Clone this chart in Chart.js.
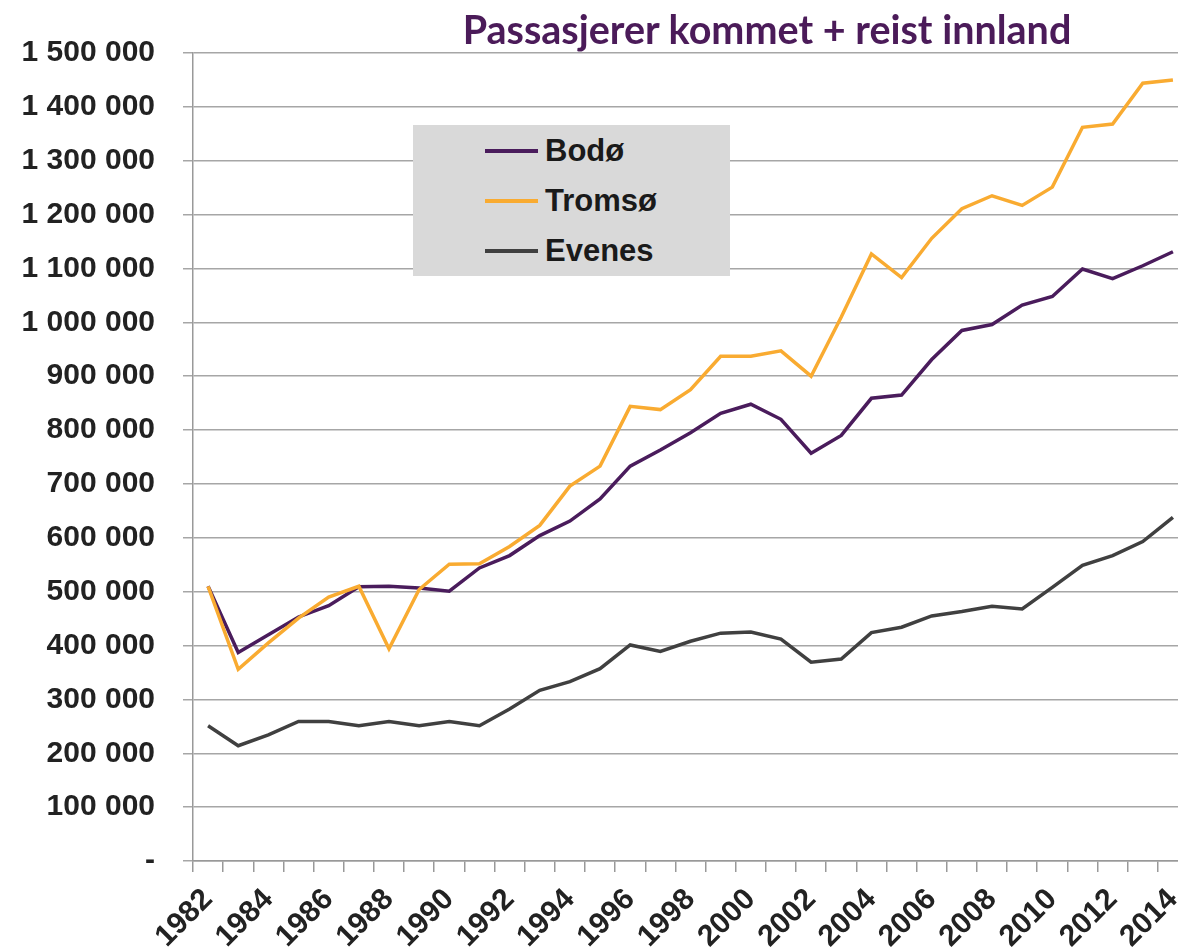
<!DOCTYPE html>
<html lang="no">
  <head>
    <meta charset="UTF-8" />
    <title>Passasjerer kommet + reist innland</title>
    <script src="https://cdn.jsdelivr.net/npm/chart.js"></script>
    <style>
      body {
        margin: 0;
        overflow: hidden;
        background: #fff;
      }
      #wrap {
        position: relative;
        width: 1178px;
        height: 949px;
        overflow: hidden;
      }
      #title {
        position: absolute;
        left: 420px;
        top: 9px;
        width: 694px;
        text-align: center;
        font: bold 39.5px Lato, sans-serif;
        line-height: 39px;
        color: #4b1b59;
        white-space: nowrap;
      }
      #legend {
        position: absolute;
        left: 413px;
        top: 125px;
        width: 317px;
        height: 151px;
        background: #d9d9d9;
      }
      .item {
        position: absolute;
        left: 72px;
        height: 40px;
        display: flex;
        align-items: center;
        font: bold 31px "Liberation Sans", Arial, sans-serif;
        color: #1a1a1a;
      }
      .item span.line {
        display: inline-block;
        width: 53px;
        height: 4px;
        margin-right: 7px;
      }
    </style>
  </head>
  <body>
    <div id="wrap">
      <canvas id="chart" width="1188" height="949"></canvas>
      <div id="title">Passasjerer kommet + reist innland</div>
      <div id="legend"></div>
    </div>
    <script>
      const years = [
        "1982", "1983", "1984", "1985", "1986", "1987", "1988", "1989",
        "1990", "1991", "1992", "1993", "1994", "1995", "1996", "1997",
        "1998", "1999", "2000", "2001", "2002", "2003", "2004", "2005",
        "2006", "2007", "2008", "2009", "2010", "2011", "2012", "2013", "2014",
      ];

      const bodo = [
        510000, 387000, 420000, 453000, 474000, 509000, 510000, 507000,
        501000, 544000, 567000, 604000, 631000, 672000, 733000, 763000,
        795000, 831000, 848000, 820000, 757000, 790000, 859000, 865000,
        931000, 985000, 996000, 1032000, 1048000, 1099000, 1081000, 1105000, 1131000,
      ];

      const tromso = [
        510000, 356000, 405000, 451000, 490000, 510000, 394000, 504000,
        551000, 552000, 584000, 623000, 696000, 733000, 844000, 838000,
        875000, 937000, 937000, 947000, 900000, 1010000, 1127000, 1083000,
        1156000, 1211000, 1235000, 1217000, 1251000, 1362000, 1368000, 1444000, 1450000,
      ];

      const evenes = [
        251000, 214000, 234000, 259000, 259000, 251000, 259000, 251000,
        259000, 251000, 282000, 317000, 333000, 357000, 401000, 389000,
        408000, 423000, 425000, 412000, 369000, 375000, 424000, 434000,
        455000, 463000, 473000, 468000, 508000, 549000, 567000, 593000, 638000,
      ];

      const seriesNames = ["Bodø", "Tromsø", "Evenes"];
      const seriesColors = ["#4a1c5c", "#f9ab31", "#404040"];

      function fmt(v) {
        if (v === 0) return "-";
        return String(v).replace(/\B(?=(\d{3})+(?!\d))/g, " ");
      }

      const tickFont = { family: "'Liberation Sans', Arial, sans-serif", size: 30, weight: "bold" };

      new Chart(document.getElementById("chart"), {
        type: "line",
        data: {
          labels: years,
          datasets: [bodo, tromso, evenes].map((d, i) => ({
            label: seriesNames[i],
            data: d,
            borderColor: seriesColors[i],
            backgroundColor: seriesColors[i],
            borderWidth: 3.5,
            pointRadius: 0,
            tension: 0,
            fill: false,
            order: i === 1 ? 0 : i + 1,
          })),
        },
        options: {
          responsive: false,
          animation: false,
          devicePixelRatio: 1,
          layout: { padding: { top: 53, right: 0, left: 0, bottom: 0 } },
          plugins: {
            legend: { display: false },
            tooltip: { enabled: false },
          },
          scales: {
            x: {
              offset: true,
              grid: {
                offset: true,
                drawOnChartArea: false,
                drawTicks: true,
                tickLength: 11,
                color: "#999",
                lineWidth: 1.5,
              },
              border: { color: "#999", width: 1.5 },
              ticks: {
                autoSkip: false,
                maxRotation: 45,
                minRotation: 45,
                padding: 10,
                color: "#222",
                font: tickFont,
                callback: function (val, i) {
                  return i % 2 === 0 ? years[i] : "";
                },
              },
              afterFit: function (s) {
                s.height = 88;
                s.paddingLeft = 0;
                s.paddingRight = 0;
              },
            },
            y: {
              min: 0,
              max: 1500000,
              grid: {
                color: "#a6a6a6",
                lineWidth: 1.5,
                tickLength: 10,
              },
              border: { color: "#999", width: 1.5 },
              ticks: {
                stepSize: 100000,
                padding: 28,
                color: "#222",
                font: tickFont,
                callback: function (v) {
                  return fmt(v);
                },
              },
              afterFit: function (s) {
                s.width = 193;
              },
            },
          },
        },
      });

      const legend = document.getElementById("legend");
      seriesNames.forEach((name, i) => {
        const row = document.createElement("div");
        row.className = "item";
        row.style.top = 6 + i * 50 + "px";
        const ln = document.createElement("span");
        ln.className = "line";
        ln.style.background = seriesColors[i];
        row.appendChild(ln);
        row.appendChild(document.createTextNode(name));
        legend.appendChild(row);
      });
    </script>
  </body>
</html>
